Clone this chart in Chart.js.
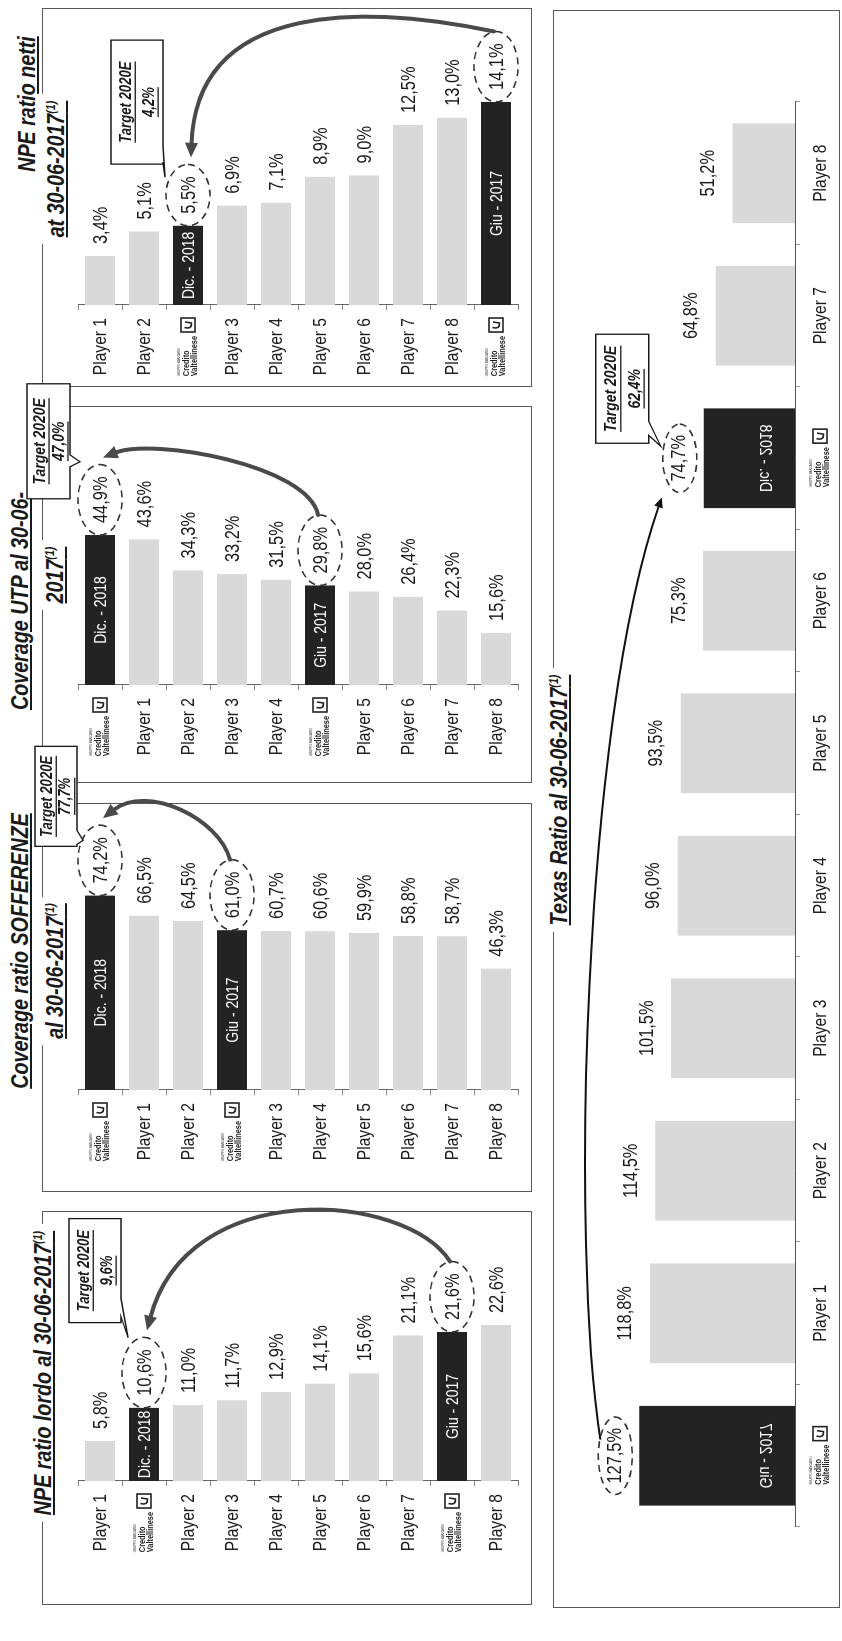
<!DOCTYPE html>
<html>
<head>
<meta charset="utf-8">
<script src="https://cdn.jsdelivr.net/npm/chart.js@4.4.1/dist/chart.umd.min.js"></script>
<style>
  body { margin: 0; background: #fff; overflow: hidden; }
  #sheet {
    position: absolute; left: 0; top: 0; width: 1641px; height: 842px;
    transform-origin: 0 0; transform: translate(0, 1641px) rotate(-90deg);
    background: #fff;
    font-family: 'Liberation Sans', Arial, sans-serif;
  }
  .box { position: absolute; border: 1.4px solid #5a5a5a; box-sizing: border-box; }
  .title {
    position: absolute; background: #fff; color: #1a1a1a; white-space: nowrap;
    font-weight: bold; font-style: italic; text-decoration: underline;
    font-size: 24px; line-height: 28px; padding: 0 8px;
    transform-origin: 50% 50%; transform: translateX(-50%) scaleX(0.82);
  }
  .title sup { font-size: 13px; }
  canvas { position: absolute; }
</style>
</head>
<body>
<div id="sheet">
  <div class="box" style="left:36px;top:42px;width:394px;height:490px"></div>
  <div class="box" style="left:449px;top:42px;width:389px;height:490px"></div>
  <div class="box" style="left:858px;top:42px;width:377px;height:490px"></div>
  <div class="box" style="left:1254px;top:42px;width:379px;height:490px"></div>
  <div class="box" style="left:33px;top:553px;width:1598px;height:287px"></div>

  <div class="title" style="left:268px;top:24px">NPE ratio lordo al 30-06-2017<sup>(1)</sup></div>
  <div class="title" style="left:690px;top:6px">Coverage ratio SOFFERENZE</div>
  <div class="title" style="left:670px;top:36px">al 30-06-2017<sup>(1)</sup></div>
  <div class="title" style="left:1040px;top:6px">Coverage UTP al 30-06-</div>
  <div class="title" style="left:1066px;top:36px">2017<sup>(1)</sup></div>
  <div class="title" style="left:1537px;top:13px">NPE ratio netti</div>
  <div class="title" style="left:1472px;top:37px">at 30-06-2017<sup>(1)</sup></div>
  <div class="title" style="left:841px;top:540px">Texas Ratio al 30-06-2017<sup>(1)</sup></div>
</div>

<script>
const FONT = "'Liberation Sans', Arial, sans-serif";
const SQ = 0.82; // horizontal squeeze, the slide uses a narrow face
const CV = "Credito Valtellinese";
const LIGHT = "#d9d9d9";
const DARK = "#232323";

// NPE ratio lordo
const lordoCats = ["Player 1", CV, "Player 2", "Player 3", "Player 4", "Player 5", "Player 6", "Player 7", CV, "Player 8"];
const lordoVals = [5.8, 10.6, 11.0, 11.7, 12.9, 14.1, 15.6, 21.1, 21.6, 22.6];
const lordoTags = ["", "Dic. - 2018", "", "", "", "", "", "", "Giu - 2017", ""];
const lordoTarget = "9,6%";

// Coverage ratio sofferenze
const soffCats = [CV, "Player 1", "Player 2", CV, "Player 3", "Player 4", "Player 5", "Player 6", "Player 7", "Player 8"];
const soffVals = [74.2, 66.5, 64.5, 61.0, 60.7, 60.6, 59.9, 58.8, 58.7, 46.3];
const soffTags = ["Dic. - 2018", "", "", "Giu - 2017", "", "", "", "", "", ""];
const soffTarget = "77,7%";

// Coverage UTP
const utpCats = [CV, "Player 1", "Player 2", "Player 3", "Player 4", CV, "Player 5", "Player 6", "Player 7", "Player 8"];
const utpVals = [44.9, 43.6, 34.3, 33.2, 31.5, 29.8, 28.0, 26.4, 22.3, 15.6];
const utpTags = ["Dic. - 2018", "", "", "", "", "Giu - 2017", "", "", "", ""];
const utpTarget = "47,0%";

// NPE ratio netti
const nettiCats = ["Player 1", "Player 2", CV, "Player 3", "Player 4", "Player 5", "Player 6", "Player 7", "Player 8", CV];
const nettiVals = [3.4, 5.1, 5.5, 6.9, 7.1, 8.9, 9.0, 12.5, 13.0, 14.1];
const nettiTags = ["", "", "Dic. - 2018", "", "", "", "", "", "", "Giu - 2017"];
const nettiTarget = "4,2%";

// Texas ratio
const texasCats = [CV, "Player 1", "Player 2", "Player 3", "Player 4", "Player 5", "Player 6", CV, "Player 7", "Player 8"];
const texasVals = [127.5, 118.8, 114.5, 101.5, 96.0, 93.5, 75.3, 74.7, 64.8, 51.2];
const texasTags = ["Giu - 2017", "", "", "", "", "", "", "Dic. - 2018", "", ""];
const texasTarget = "62,4%";

Chart.defaults.font.family = FONT;
const sheet = document.getElementById("sheet");

function fmt(v) {
  return v.toFixed(1).replace(".", ",") + "%";
}

function addCanvas(left, top, w, h) {
  const c = document.createElement("canvas");
  c.width = w;
  c.height = h;
  c.style.left = left + "px";
  c.style.top = top + "px";
  c.style.width = w + "px";
  c.style.height = h + "px";
  sheet.appendChild(c);
  return c;
}

// narrow text helpers
function nWidth(ctx, t) {
  return ctx.measureText(t).width * SQ;
}
function nText(ctx, t, x, y, flip) {
  ctx.save();
  ctx.translate(x, y);
  ctx.scale(SQ, flip ? -1 : 1);
  ctx.fillText(t, 0, 0);
  ctx.restore();
}

function dashedEllipse(ctx, m) {
  ctx.save();
  ctx.setLineDash([7, 5]);
  ctx.lineWidth = 1.6;
  ctx.strokeStyle = "#333";
  ctx.beginPath();
  ctx.ellipse(m.cx, m.cy, m.rx, m.ry, 0, 0, Math.PI * 2);
  ctx.stroke();
  ctx.restore();
}

function curvedArrow(ctx, p0, c1, c2, p3, width, color, head) {
  ctx.save();
  ctx.strokeStyle = color;
  ctx.fillStyle = color;
  ctx.lineWidth = width;
  ctx.lineCap = "round";
  const ang = Math.atan2(p3[1] - c2[1], p3[0] - c2[0]);
  const ex = p3[0] - Math.cos(ang) * head * 0.8;
  const ey = p3[1] - Math.sin(ang) * head * 0.8;
  ctx.beginPath();
  ctx.moveTo(p0[0], p0[1]);
  ctx.bezierCurveTo(c1[0], c1[1], c2[0], c2[1], ex, ey);
  ctx.stroke();
  ctx.beginPath();
  ctx.moveTo(p3[0], p3[1]);
  ctx.lineTo(p3[0] - Math.cos(ang - 0.42) * head, p3[1] - Math.sin(ang - 0.42) * head);
  ctx.lineTo(p3[0] - Math.cos(ang + 0.42) * head, p3[1] - Math.sin(ang + 0.42) * head);
  ctx.closePath();
  ctx.fill();
  ctx.restore();
}

function callout(ctx, x, y, w, h, n1, n2, tip, value, size) {
  ctx.save();
  ctx.beginPath();
  ctx.moveTo(x, y);
  ctx.lineTo(x + w, y);
  ctx.lineTo(x + w, y + h);
  ctx.lineTo(x + n2, y + h);
  ctx.lineTo(tip[0], tip[1]);
  ctx.lineTo(x + n1, y + h);
  ctx.lineTo(x, y + h);
  ctx.closePath();
  ctx.fillStyle = "#fff";
  ctx.fill();
  ctx.strokeStyle = "#1a1a1a";
  ctx.lineWidth = 1.3;
  ctx.stroke();
  ctx.fillStyle = "#1a1a1a";
  ctx.font = `italic bold ${size}px ${FONT}`;
  ctx.textAlign = "center";
  ctx.textBaseline = "middle";
  const cx = x + w / 2;
  [["Target 2020E", y + h * 0.3], [value, y + h * 0.74]].forEach(([t, ty]) => {
    nText(ctx, t, cx, ty);
    const tw = nWidth(ctx, t);
    ctx.fillRect(cx - tw / 2, ty + size * 0.5, tw, 1.3);
  });
  ctx.restore();
}

// small "Credito Valtellinese" logo
function logoWidth(ctx) {
  ctx.font = `bold 9px ${FONT}`;
  return nWidth(ctx, "Valtellinese") + 4 + 14;
}

function drawLogo(ctx, right, cy) {
  ctx.save();
  const s = 14;
  const sx = right - s;
  const sy = cy - s / 2;
  ctx.strokeStyle = "#222";
  ctx.lineWidth = 1.6;
  ctx.strokeRect(sx, sy, s, s);
  ctx.beginPath();
  ctx.moveTo(sx + 4.5, sy + 3.5);
  ctx.quadraticCurveTo(sx + 2.5, sy + 11, sx + 9, sy + 10.5);
  ctx.lineTo(sx + 10, sy + 4);
  ctx.stroke();
  ctx.fillStyle = "#222";
  ctx.font = `bold 9px ${FONT}`;
  const tw = nWidth(ctx, "Valtellinese");
  const tx = sx - 4 - tw;
  ctx.textAlign = "left";
  ctx.textBaseline = "middle";
  nText(ctx, "Credito", tx, cy - 1.5);
  nText(ctx, "Valtellinese", tx, cy + 6.5);
  ctx.font = `3.5px ${FONT}`;
  nText(ctx, "GRUPPO BANCARIO", tx, cy - 8.5);
  ctx.restore();
}

function panelPlugin(p) {
  return {
    id: "deco_" + p.id,
    afterDatasetsDraw(chart) {
      const ctx = chart.ctx;
      const bars = chart.getDatasetMeta(0).data;
      const marks = {};
      bars.forEach((bar, i) => {
        const txt = fmt(p.vals[i]);
        ctx.save();
        ctx.font = `${p.font}px ${FONT}`;
        const w = nWidth(ctx, txt);
        const lx = bar.x + 12;
        ctx.fillStyle = "#1a1a1a";
        ctx.textAlign = "left";
        ctx.textBaseline = "middle";
        nText(ctx, txt, lx, bar.y + 1);
        if (p.tags[i]) {
          ctx.fillStyle = "#fff";
          ctx.font = `17px ${FONT}`;
          ctx.textAlign = "center";
          nText(ctx, p.tags[i], (bar.x + bar.base) / 2, bar.y + 1);
          const m = { cx: lx + w / 2, cy: bar.y, rx: w / 2 + 12, ry: 22 };
          dashedEllipse(ctx, m);
          marks[p.tags[i].startsWith("Dic") ? "D" : "G"] = m;
        }
        ctx.restore();
      });

      // category labels and CV logos
      const ys = chart.scales.y;
      ctx.save();
      ctx.font = `19px ${FONT}`;
      ctx.fillStyle = "#1a1a1a";
      ctx.textAlign = "right";
      ctx.textBaseline = "middle";
      p.cats.forEach((c, i) => {
        const y = ys.getPixelForValue(i);
        if (c === CV) drawLogo(ctx, ys.right - 13, y);
        else nText(ctx, c, ys.right - 13, y + 1);
      });
      ctx.restore();

      // arrow from Giu-2017 to Dic-2018
      const G = marks.G, D = marks.D, a = p.arc;
      const p0 = [G.cx + G.rx, G.cy - 2];
      const p3 = [D.cx + D.rx + 7, D.cy + 3];
      const c1 = [p0[0] + a[0], p0[1] - a[1]];
      const c2 = [Math.max(p0[0], p3[0]) + a[2], p3[1] + a[3]];
      curvedArrow(ctx, p0, c1, c2, p3, 4, "#4a4a4a", 16);

      // target callout
      const k = p.call;
      callout(ctx, D.cx + k.dx, D.cy + k.dy, k.w, k.h, k.n1, k.n2,
        [D.cx + k.tx, D.cy + k.ty], p.target, k.size);
    },
  };
}

function smallPanel(p) {
  const cw = Math.min(p.box[1] + 70, 1641) - p.box[0];
  const ch = 545;
  const c = addCanvas(p.box[0], 0, cw, ch);
  const areaRight = p.box[1] - 10 - p.box[0];
  const labelW = p.axis - p.box[0];
  new Chart(c, {
    type: "bar",
    data: {
      labels: p.cats,
      datasets: [
        {
          data: p.vals,
          backgroundColor: p.tags.map((t) => (t ? DARK : LIGHT)),
          barPercentage: 0.68,
          categoryPercentage: 1,
        },
      ],
    },
    options: {
      indexAxis: "y",
      responsive: false,
      animation: false,
      devicePixelRatio: 1,
      layout: { padding: { left: 0, right: cw - areaRight, top: 78, bottom: ch - 518 } },
      plugins: { legend: { display: false }, tooltip: { enabled: false } },
      scales: {
        x: { display: false, min: 0, max: (areaRight - labelW) / p.ppu },
        y: {
          afterFit: (s) => {
            s.width = labelW;
          },
          ticks: { display: false },
          grid: { drawOnChartArea: false, tickLength: 5, color: "#888" },
          border: { color: "#666", width: 1 },
        },
      },
    },
    plugins: [panelPlugin(p)],
  });
}

smallPanel({
  id: "lordo", box: [36, 430], axis: 160, ppu: 6.9, font: 20,
  cats: lordoCats, vals: lordoVals, tags: lordoTags, target: lordoTarget,
  arc: [70, 45, 85, 40],
  call: { dx: 50, dy: -75, w: 104, h: 52, n1: 6, n2: 24, tx: 35, ty: -16, size: 16 },
});
smallPanel({
  id: "soff", box: [449, 838], axis: 551, ppu: 2.62, font: 20,
  cats: soffCats, vals: soffVals, tags: soffTags, target: soffTarget,
  arc: [40, 10, 35, 45],
  call: { dx: 14, dy: -65, w: 100, h: 42, n1: 2, n2: 16, tx: 20, ty: -17, size: 16 },
});
smallPanel({
  id: "utp", box: [858, 1235], axis: 956, ppu: 3.34, font: 20,
  cats: utpCats, vals: utpVals, tags: utpTags, target: utpTarget,
  arc: [50, 10, 20, 50],
  call: { dx: 1, dy: -73, w: 115, h: 43, n1: 32, n2: 44, tx: 38, ty: -20, size: 17 },
});
smallPanel({
  id: "netti", box: [1254, 1633], axis: 1336, ppu: 14.4, font: 20,
  cats: nettiCats, vals: nettiVals, tags: nettiTags, target: nettiTarget,
  arc: [25, 120, 35, 5],
  call: { dx: 31, dy: -77, w: 124, h: 52, n1: 2, n2: 18, tx: 18, ty: -23, size: 16 },
});

// Texas ratio (vertical bars)
const texasPlugin = {
  id: "texasDeco",
  afterDatasetsDraw(chart) {
    const ctx = chart.ctx;
    const bars = chart.getDatasetMeta(0).data;
    const marks = {};
    bars.forEach((bar, i) => {
      const txt = fmt(texasVals[i]);
      ctx.save();
      ctx.font = `20px ${FONT}`;
      const w = nWidth(ctx, txt);
      const ly = bar.y - 24;
      ctx.fillStyle = "#1a1a1a";
      ctx.textAlign = "center";
      ctx.textBaseline = "middle";
      nText(ctx, txt, bar.x, ly);
      if (texasTags[i]) {
        ctx.fillStyle = "#fff";
        ctx.font = `17px ${FONT}`;
        nText(ctx, texasTags[i], bar.x, bar.base - 30, true);
        const m = { cx: bar.x, cy: ly, rx: w / 2 + 11, ry: 17 };
        dashedEllipse(ctx, m);
        marks[texasTags[i].startsWith("Dic") ? "D" : "G"] = m;
      }
      ctx.restore();
    });

    // category labels and logos
    const xs = chart.scales.x;
    ctx.save();
    ctx.font = `19px ${FONT}`;
    ctx.fillStyle = "#1a1a1a";
    ctx.textAlign = "center";
    ctx.textBaseline = "middle";
    texasCats.forEach((c, i) => {
      const x = xs.getPixelForValue(i);
      if (c === CV) {
        const lw = logoWidth(ctx);
        drawLogo(ctx, x + lw / 2, xs.top + 25);
        ctx.font = `19px ${FONT}`;
      } else {
        nText(ctx, c, x, xs.top + 26);
      }
    });
    ctx.restore();

    const G = marks.G, D = marks.D;
    const p0 = [G.cx + 17, G.cy - 15];
    const p3 = [D.cx - D.rx - 5, D.cy - 18];
    curvedArrow(ctx, p0, [p0[0] + 190, p0[1] - 30], [p3[0] - 230, p3[1] - 80], p3, 2, "#111", 11);

    callout(ctx, D.cx + 15, D.cy - 84, 109, 53, 8, 22, [D.cx + 12, D.cy - 19], texasTarget, 17);
  },
};

(function texasPanel() {
  const left = 33, top = 553, cw = 1598, ch = 287;
  const c = addCanvas(left, top, cw, ch);
  new Chart(c, {
    type: "bar",
    data: {
      labels: texasCats,
      datasets: [
        {
          data: texasVals,
          backgroundColor: texasTags.map((t) => (t ? DARK : LIGHT)),
          barPercentage: 0.7,
          categoryPercentage: 1,
        },
      ],
    },
    options: {
      responsive: false,
      animation: false,
      devicePixelRatio: 1,
      layout: { padding: { left: 81, right: 92, top: 71, bottom: 0 } },
      plugins: { legend: { display: false }, tooltip: { enabled: false } },
      scales: {
        x: {
          afterFit: (s) => {
            s.height = 45;
          },
          ticks: { display: false },
          grid: { drawOnChartArea: false, tickLength: 5, color: "#999" },
          border: { color: "#555", width: 1 },
        },
        y: { display: false, min: 0, max: 140 },
      },
    },
    plugins: [texasPlugin],
  });
})();
</script>
</body>
</html>
